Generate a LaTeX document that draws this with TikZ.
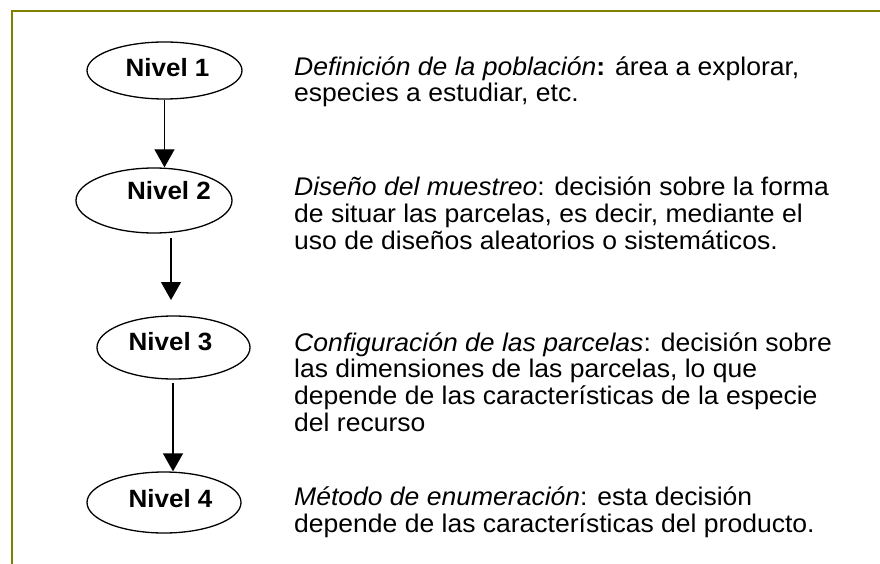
\documentclass[tikz,border=0pt]{standalone}
\usepackage{fontspec}
\setmainfont[FakeStretch=1.04]{Liberation Sans}
\usetikzlibrary{shapes.geometric,arrows.meta}
\definecolor{marco}{RGB}{128,128,0}
\tikzstyle{nivel}=[draw, ellipse, line width=1.3pt, inner sep=0pt]
\tikzstyle{etiqueta}=[font=\fontsize{25}{30}\selectfont\bfseries, inner sep=0pt, anchor=base]
\tikzstyle{texto}=[font=\fontsize{25.5}{26.6}\selectfont, align=left, inner sep=0pt, anchor=base west]
\tikzstyle{flecha}=[line width=1.3pt, -{Triangle[width=20pt,length=18pt]}]

\begin{document}
\begin{tikzpicture}[x=1pt, y=-1pt]
	\useasboundingbox (0,0) rectangle (880,564);
	\fill[white] (0,0) rectangle (880,564);
	\draw[marco, line width=2pt] (12,566) -- (12,11) -- (882,11);
	% niveles
	\node[nivel, minimum width=155pt, minimum height=57pt] (n1) at (164.5,70.5) {};
	\node[nivel, minimum width=156pt, minimum height=65pt] (n2) at (154,200.5) {};
	\node[nivel, minimum width=153pt, minimum height=63pt] (n3) at (173.5,347.5) {};
	\node[nivel, minimum width=154pt, minimum height=61pt] (n4) at (164,502.5) {};
	\node[etiqueta] (e1) at (167.5,77) {Nivel 1};
	\node[etiqueta] (e2) at (169,200) {Nivel 2};
	\node[etiqueta] (e3) at (170.5,350) {Nivel 3};
	\node[etiqueta] (e4) at (170.5,507) {Nivel 4};
	% flechas
	\coordinate (a2) at (171,238);
	\coordinate (b2) at (171,300);
	\coordinate (a3) at (173,383);
	\draw[flecha] (n1.south) -- (n1.south |- n2.north);
	\draw[flecha] (a2) -- (b2);
	\draw[flecha] (a3) -- (a3 |- n4.north);
	% textos (base = ultima linea)
	\node[texto] (t1) at (294,102) {\textit{Definición de la población}\textbf{:} área a explorar,\\especies a estudiar, etc.};
	\node[texto] (t2) at (294,249) {\textit{Diseño del muestreo}: decisión sobre la forma\\de situar las parcelas, es decir, mediante el\\uso de diseños aleatorios o sistemáticos.};
	\node[texto] (t3) at (294,431) {\textit{Configuración de las parcelas}: decisión sobre\\las dimensiones de las parcelas, lo que\\depende de las características de la especie\\del recurso};
	\node[texto] (t4) at (294,532) {\textit{Método de enumeración}: esta decisión\\depende de las características del producto.};
\end{tikzpicture}
\end{document}
